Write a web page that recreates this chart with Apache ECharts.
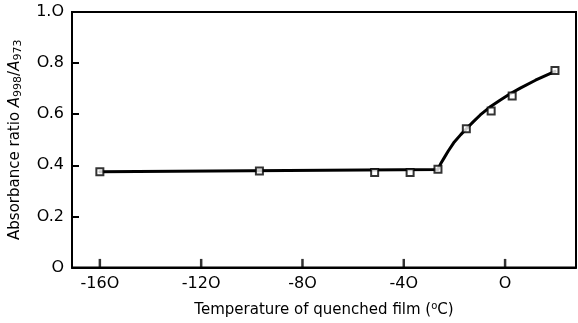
<!DOCTYPE html>
<html>
<head>
<meta charset="utf-8">
<script src="https://cdn.jsdelivr.net/npm/echarts@6/dist/echarts.min.js"></script>
<style>html,body{margin:0;padding:0;background:#fff;}#c{width:578px;height:323px;}</style>
</head>
<body>
<div id="c"></div>
<script>
// Measured points (temperature °C, absorbance ratio)
var markerX = [-160, -97, -51.5, -37.5, -26.5, -15.3, -5.5, 2.8, 19.7];
var markerY = [0.375, 0.378, 0.372, 0.372, 0.385, 0.543, 0.613, 0.671, 0.771];
// Drawn fitted curve
var curveX = [-160, -26.5, -25.5, -24, -22.5, -20.3, -17.5, -15.3, -12.5, -9.8, -6, -2, 2, 6, 12, 19.7];
var curveY = [0.375, 0.384, 0.405, 0.43, 0.455, 0.488, 0.52, 0.543, 0.571, 0.597, 0.628, 0.655, 0.68, 0.702, 0.733, 0.768];
var xTicks = [-160, -120, -80, -40, 0];
var yTicks = [0, 0.2, 0.4, 0.6, 0.8, 1.0];
var yTickLabels = ['O', 'O.2', 'O.4', 'O.6', 'O.8', '1.O'];

function zip(a, b) { return a.map(function (v, i) { return [v, b[i]]; }); }

var FONT = 'DejaVu Sans';
var chart = echarts.init(document.getElementById('c'), null, {renderer: 'canvas'});
chart.setOption({
  animation: false,
  backgroundColor: '#fff',
  grid: {left: 70, right: 2, top: 12, bottom: 51, show: true, borderColor: '#000', borderWidth: 2, containLabel: false},
  xAxis: {
    type: 'value', min: -171, max: 28,
    axisLine: {show: true, onZero: false, lineStyle: {color: '#000', width: 2}},
    axisTick: {show: false},
    axisLabel: {show: true, customValues: xTicks, color: '#000', fontFamily: FONT, fontSize: 16, margin: 8,
      formatter: function (v) { return v === 0 ? 'O' : String(v).replace(/0/g, 'O'); }},
    splitLine: {show: false},
    name: 'Temperature of quenched film ({sup|o}C)',
    nameLocation: 'middle', nameGap: 34,
    nameTextStyle: {color: '#000', fontFamily: FONT, fontSize: 15,
      rich: {sup: {fontSize: 10, verticalAlign: 'top', padding: [0, 0, 8, 0], fontFamily: FONT, color: '#000'}}}
  },
  yAxis: {
    type: 'value', min: 0, max: 1.0,
    axisLine: {show: true, onZero: false, lineStyle: {color: '#000', width: 2}},
    axisTick: {show: true, inside: true, length: 7, customValues: yTicks, lineStyle: {color: '#000', width: 2}},
    axisLabel: {show: true, customValues: yTicks, color: '#000', fontFamily: FONT, fontSize: 16, margin: 8,
      formatter: function (v) { var i = yTicks.indexOf(v); return i >= 0 ? yTickLabels[i] : ''; }},
    splitLine: {show: false},
    name: 'Absorbance ratio {i|A}{s|998}/{i|A}{s|973}',
    nameLocation: 'middle', nameGap: 48, nameRotate: 90,
    nameTextStyle: {color: '#000', fontFamily: FONT, fontSize: 15,
      rich: {
        i: {fontStyle: 'italic', fontSize: 15, fontFamily: FONT, color: '#000'},
        s: {fontSize: 11, verticalAlign: 'bottom', padding: [6, 0, 0, 0], fontFamily: FONT, color: '#000'}
      }}
  },
  series: [
    {type: 'line', data: zip(curveX, curveY), showSymbol: false, symbol: 'none', smooth: false,
      lineStyle: {color: '#000', width: 3, join: 'round', cap: 'round'}, z: 2},
    {type: 'scatter', data: zip(markerX, markerY), symbol: 'rect', symbolSize: 7,
      itemStyle: {color: '#fff', borderColor: '#000', borderWidth: 2}, z: 3},
    // x-axis tick marks (pointing up into the plot)
    {type: 'scatter', data: xTicks.map(function (v) { return [v, 0.016]; }), symbol: 'rect',
      symbolSize: [2.5, 9], clip: false, silent: true,
      itemStyle: {color: '#000', borderWidth: 0}, z: 10}
  ]
});
</script>
</body>
</html>
